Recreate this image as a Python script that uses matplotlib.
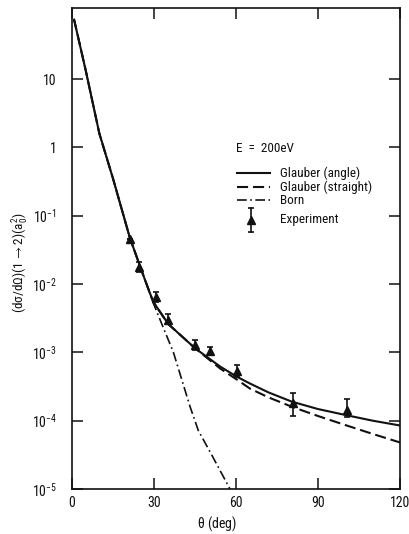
import matplotlib
matplotlib.use("Agg")
import matplotlib.pyplot as plt
from matplotlib import font_manager
from matplotlib.ticker import FixedLocator, NullLocator, FixedFormatter

# ---------------- data ----------------
theta_angle = [0.7, 5, 10, 15, 21.2, 26.7, 29.7, 35.2, 45, 54.2, 60.3, 65.1, 71.8, 80.4, 90, 100.5, 110, 120]
sigma_angle = [76, 13.5, 1.6, 0.35, 0.047, 0.0115, 0.0055, 0.0026, 0.00115, 6.2e-4, 4.4e-4,
               3.5e-4, 2.6e-4, 1.9e-4, 1.48e-4, 1.2e-4, 1.0e-4, 8.5e-5]

theta_straight = [0.7, 5, 10, 15, 21.2, 26.7, 29.7, 35.2, 45, 54.2, 60.3, 65.1, 71.8, 80.4, 90, 100.5, 110, 120]
sigma_straight = [76, 13.5, 1.6, 0.35, 0.047, 0.0115, 0.0055, 0.0026, 0.00115, 5.8e-4, 4.0e-4,
                  2.95e-4, 2.2e-4, 1.6e-4, 1.17e-4, 8.5e-5, 6.4e-5, 4.8e-5]

theta_born = [0.7, 5, 10, 15, 21.2, 26.7, 29.7, 37.1, 43.2, 46.2, 51.6, 57.8]
sigma_born = [76, 13.5, 1.6, 0.35, 0.047, 0.0115, 0.0053, 1.0e-3, 1.6e-4, 7.2e-5, 2.9e-5, 1.0e-5]

theta_exp = [21.2, 24.6, 30.7, 35.2, 45.0, 50.5, 60.3, 80.7, 100.7]
sigma_exp = [0.046, 0.018, 0.0065, 0.0030, 0.00128, 0.00105, 0.00054, 1.8e-4, 1.45e-4]
sigma_exp_lo = [0.046, 0.015, 0.0055, 0.0026, 0.00107, 0.00091, 0.00044, 1.17e-4, 1.15e-4]
sigma_exp_hi = [0.046, 0.021, 0.0077, 0.0037, 0.0015, 0.0012, 0.00065, 2.5e-4, 2.1e-4]

x_ticks = [0, 30, 60, 90, 120]
x_tick_labels = ["0", "30", "60", "90", "120"]
y_ticks = [1e1, 1e0, 1e-1, 1e-2, 1e-3, 1e-4, 1e-5]
y_tick_labels = ["10", "1", r"10$^{-1}$", r"10$^{-2}$", r"10$^{-3}$", r"10$^{-4}$", r"10$^{-5}$"]

legend_title = "E  =  200eV"
legend_labels = ["Glauber (angle)", "Glauber (straight)", "Born", "Experiment"]

# ---------------- style ----------------
names = {f.name for f in font_manager.fontManager.ttflist}
family = "DejaVu Sans"
for cand in ["Liberation Sans Narrow", "DejaVu Sans Condensed", "Roboto Condensed", "Open Sans Condensed"]:
    if cand in names:
        family = cand
        break
plt.rcParams["font.family"] = [family, "DejaVu Sans"]
plt.rcParams["mathtext.default"] = "regular"
plt.rcParams["lines.scale_dashes"] = False

ink = "#111111"
fig = plt.figure(figsize=(4.09, 5.34), dpi=100)
W, H = 409, 534
L, R, T, B = 72, 400, 8, 489
ax = fig.add_axes([L / W, (H - B) / H, (R - L) / W, (B - T) / H])

lw = 1.5
ax.plot(theta_angle, sigma_angle, color=ink, lw=lw, solid_capstyle="butt")
ax.plot(theta_straight, sigma_straight, color=ink, lw=lw, dashes=(8, 3.5))
ax.plot(theta_born, sigma_born, color=ink, lw=1.2, dashes=(7, 2.5, 1.2, 2.5))
yerr = [[v - lo for v, lo in zip(sigma_exp, sigma_exp_lo)],
        [hi - v for v, hi in zip(sigma_exp, sigma_exp_hi)]]
ax.errorbar(theta_exp, sigma_exp, yerr=yerr, fmt="^", color=ink, ms=5.5,
            capsize=2.5, elinewidth=1.2, capthick=1.2, zorder=5)

ax.set_yscale("log")
ax.set_xlim(0, 120)
ax.set_ylim(1e-5, 10 ** 2.04)
ax.xaxis.set_major_locator(FixedLocator(x_ticks))
ax.xaxis.set_major_formatter(FixedFormatter(x_tick_labels))
ax.yaxis.set_major_locator(FixedLocator(y_ticks))
ax.yaxis.set_major_formatter(FixedFormatter(y_tick_labels))
ax.yaxis.set_minor_locator(NullLocator())
ax.xaxis.set_minor_locator(NullLocator())
ax.tick_params(which="major", direction="in", top=True, right=True, length=8,
               width=1.1, color=ink, labelsize=10, labelcolor=ink)
ax.tick_params(axis="y", pad=11)
ax.tick_params(axis="x", pad=5)
for s in ax.spines.values():
    s.set_linewidth(1.2)
    s.set_color(ink)

fig.text(217 / W, 1 - 524 / H, r"$\theta$ (deg)", ha="center", va="center", fontsize=10, color=ink)
fig.text(21 / W, 1 - 263 / H, r"(d$\sigma$/d$\Omega$)(1$\rightarrow$2)(a$_0^2$)", rotation=90,
         ha="center", va="center", fontsize=9.5, color=ink)

# ---------------- legend (drawn in axes fractions) ----------------
def fx(px):
    return (px - L) / (R - L)

def fy(py):
    return (B - py) / (B - T)

tr = ax.transAxes
fs = 9.5
ax.text(fx(236), fy(148), legend_title, transform=tr, ha="left", va="center", fontsize=fs, color=ink)
rows = [173, 187, 200, 220]
x0, x1, xt = fx(237), fx(270), fx(280)
ax.plot([x0, x1], [fy(rows[0])] * 2, transform=tr, color=ink, lw=lw)
ax.plot([x0, x1], [fy(rows[1])] * 2, transform=tr, color=ink, lw=lw, dashes=(8, 3.5))
ax.plot([x0, x1], [fy(rows[2])] * 2, transform=tr, color=ink, lw=1.2, dashes=(7, 2.5, 1.2, 2.5))
xe = fx(251)
ax.plot([xe, xe], [fy(208), fy(232)], transform=tr, color=ink, lw=1.2)
ax.plot([xe], [fy(208)], transform=tr, marker="_", ms=5, mew=1.2, color=ink)
ax.plot([xe], [fy(232)], transform=tr, marker="_", ms=5, mew=1.2, color=ink)
ax.plot([xe], [fy(220)], transform=tr, marker="^", ms=5.5, color=ink)
for r, lab in zip(rows, legend_labels):
    ax.text(xt, fy(r), lab, transform=tr, ha="left", va="center", fontsize=fs, color=ink)

fig.savefig("out.png", dpi=100)
